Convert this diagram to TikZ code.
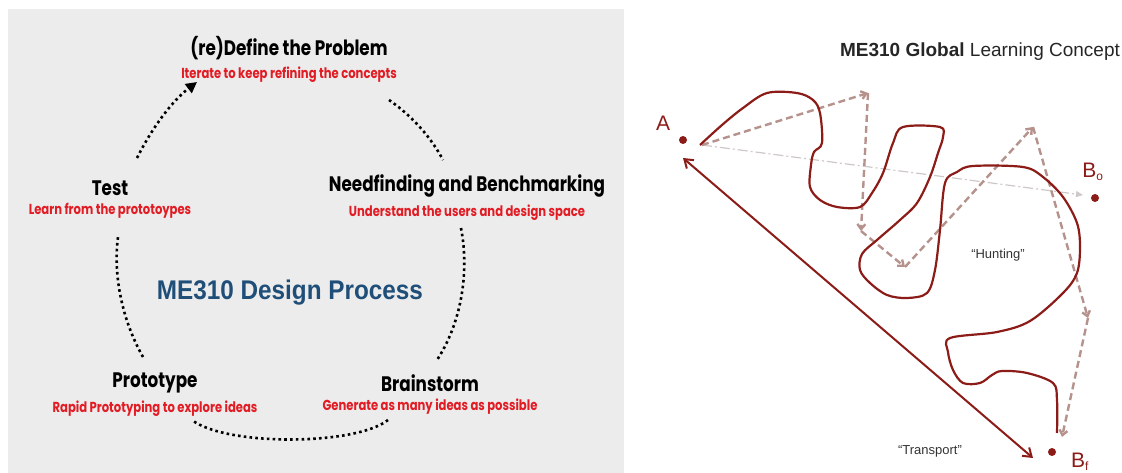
\documentclass[tikz,border=0pt]{standalone}
\usepackage{fontspec}
\setmainfont{Liberation Sans}
\newfontfamily\gothic[FakeStretch=0.8]{Poppins}
\newfontfamily\arialn[FakeStretch=0.9]{Liberation Sans}
\usetikzlibrary{arrows.meta,positioning}

\definecolor{panelgray}{RGB}{236,236,236}
\definecolor{notered}{RGB}{226,28,36}
\definecolor{procblue}{RGB}{31,78,121}
\definecolor{huntred}{RGB}{140,28,24}
\definecolor{hintpink}{RGB}{182,146,141}
\definecolor{directgray}{RGB}{206,200,200}

\tikzset{
  stage/.style={font=\gothic\bfseries\fontsize{21}{22}\selectfont, inner sep=0pt},
  stagenote/.style={font=\gothic\bfseries\fontsize{14.5}{16}\selectfont, text=notered, inner sep=0pt},
  cycle/.style={line width=2.6pt, dash pattern=on 2.6pt off 3.2pt},
  hunt/.style={huntred, line width=2.2pt, line join=round},
  hint/.style={hintpink, line width=2.4pt, dash pattern=on 7pt off 4pt, -{Straight Barb[length=5pt,width=8pt]}},
  direct/.style={directgray, line width=1.2pt, dash pattern=on 10pt off 3pt on 2pt off 3pt, -{Triangle[length=7pt,width=6pt]}},
  transport/.style={huntred, line width=2pt, {Straight Barb[length=8pt,width=11pt]}-{Straight Barb[length=8pt,width=11pt]}},
  pt/.style={circle, fill=huntred, inner sep=0pt, minimum size=8pt},
  ptlabel/.style={font=\fontsize{21}{22}\selectfont, text=huntred, inner sep=0pt},
  quote/.style={font=\fontsize{13}{14}\selectfont, text=black!80, inner sep=0pt}
}

\begin{document}
\begin{tikzpicture}[x=1pt, y=-1pt]
  \useasboundingbox (0,0) rectangle (1122,473);
  \fill[panelgray] (8,9) rectangle (624,473);  % left panel

  % design process stages
  \node[stage] (define) at (289,48) {(re)Define the Problem};
  \node[stagenote, below=7pt of define] (definenote) {Iterate to keep refining the concepts};
  \node[stage] (test) at (110,188) {Test};
  \node[stagenote, below=7pt of test] (testnote) {Learn from the prototoypes};
  \node[stage] (need) at (467,186) {Needfinding and Benchmarking};
  \node[stagenote, below=7pt of need] (neednote) {Understand the users and design space};
  \node[stage] (proto) at (155,383) {Prototype};
  \node[stagenote, below=7pt of proto] (protonote) {Rapid Prototyping to explore ideas};
  \node[stage] (brain) at (430,383) {Brainstorm};
  \node[stagenote, below=7pt of brain] (brainnote) {Generate as many ideas as possible};
  \node[font=\arialn\bfseries\fontsize{27}{30}\selectfont, text=procblue] (process) at (290,293) {ME310 Design Process};

  % dotted cycle
  \coordinate (testout) at (137,158);
  \coordinate (definein) at (197,82);
  \coordinate (defineout) at (389,100);
  \coordinate (needin) at (443,160);
  \coordinate (needout) at (461,228);
  \coordinate (brainin) at (437,360);
  \coordinate (brainout) at (388,420);
  \coordinate (protoin) at (192,420);
  \coordinate (protoout) at (143,357);
  \coordinate (testin) at (118,237);
  \draw[cycle, -{Triangle[length=11pt,width=11pt]}] (testout) .. controls (152,128) and (172,101) .. (definein);
  \draw[cycle] (defineout) .. controls (411,115) and (431,137) .. (needin);
  \draw[cycle] (needout) .. controls (470,275) and (460,325) .. (brainin);
  \draw[cycle] (brainout) .. controls (355,446) and (225,446) .. (protoin);
  \draw[cycle] (protoout) .. controls (122,320) and (113,275) .. (testin);

  % global learning concept
  \node[font=\fontsize{19}{20}\selectfont, text=black!85] (concept) at (980,52) {\textbf{ME310 Global} Learning Concept};
  \node[pt] (A) at (683,140) {};
  \node[pt] (Bo) at (1095,198) {};
  \node[pt] (Bf) at (1052,452) {};
  \node[ptlabel] (Alabel) at (663,123) {A};
  \node[ptlabel] (Bolabel) at (1093,172) {B\textsubscript{\fontsize{12}{12}\selectfont o}};
  \node[ptlabel] (Bflabel) at (1080,462) {B\textsubscript{\fontsize{12}{12}\selectfont f}};
  \node[quote] (hunting) at (998,255) {“Hunting”};
  \node[quote] (transportlabel) at (930,451) {“Transport”};

  \coordinate (h0) at (702,145);
  \coordinate (h1) at (868,93);
  \coordinate (h2) at (861,231);
  \coordinate (h3) at (905,267);
  \coordinate (h4) at (1033,127);
  \coordinate (h5) at (1088,318);
  \coordinate (h6) at (1062,437);
  \coordinate (directend) at (1083,195);
  \coordinate (tA) at (683,158);
  \coordinate (tB) at (1033,458);

  \draw[direct] (h0) -- (directend);
  \foreach \a/\b in {h0/h1,h1/h2,h2/h3,h3/h4,h4/h5,h5/h6}
    \draw[hint] (\a) -- (\b);
  \draw[transport] (tA) -- (tB);

  % the hunting path
  \draw[hunt] plot[smooth, tension=0.55] coordinates {
    (700,145) (722,125) (743,108) (767,93) (797,93) (813,100) (820,113)
    (822,143) (814,152) (811,165) (810,187) (820,200) (837,207) (860,207)
    (872,193) (883,173) (893,143) (903,127) (940,127) (943,137) (938,153)
    (930,177) (917,203) (900,220) (877,240) (862,254) (860,270) (870,283)
    (887,295) (907,298) (927,293) (935,270) (940,230) (945,183) (957,172)
    (973,166) (1023,167) (1043,177) (1063,197) (1077,223) (1080,247)
    (1077,273) (1063,293) (1030,321) (997,332) (950,338) (948,352)
    (953,370) (963,383) (980,383) (992,375) (1002,371) (1027,373)
    (1053,383) (1057,400) (1057,433)};
\end{tikzpicture}
\end{document}
